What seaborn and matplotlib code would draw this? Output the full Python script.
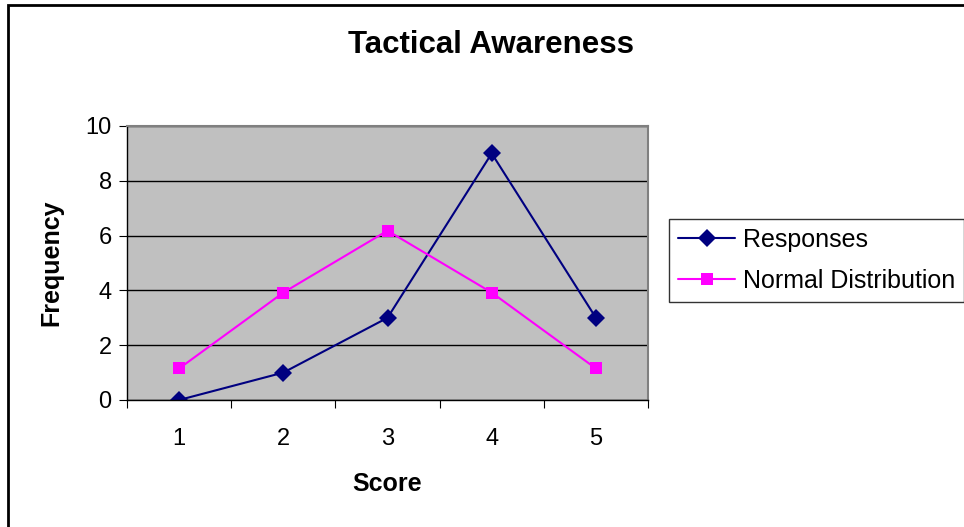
import pandas as pd
import matplotlib.pyplot as plt
import seaborn as sns
from matplotlib.patches import Rectangle

scores = [1, 2, 3, 4, 5]
responses = [0, 1, 3, 9, 3]
normal_dist = [1.15, 3.92, 6.18, 3.92, 1.15]

df = pd.DataFrame({
    'Score': scores * 2,
    'Frequency': responses + normal_dist,
    'Series': ['Responses'] * 5 + ['Normal Distribution'] * 5,
})

sns.set_style("white")
plt.rcParams['font.family'] = ['Liberation Sans', 'DejaVu Sans']
plt.rcParams['text.color'] = 'black'
plt.rcParams['xtick.color'] = 'black'
plt.rcParams['ytick.color'] = 'black'
plt.rcParams['axes.labelcolor'] = 'black'

fig = plt.figure(figsize=(9.64, 5.27), dpi=100)
fig.patches.append(Rectangle((8 / 964, -0.1), 1.1, (527 - 5) / 527 + 0.1, transform=fig.transFigure,
                             fill=False, edgecolor='black', linewidth=2))
ax = fig.add_axes([127 / 964, 127 / 527, 521 / 964, 274 / 527])
ax.set_facecolor('#C0C0C0')

sns.lineplot(data=df, x='Score', y='Frequency', hue='Series', style='Series',
             palette={'Responses': '#000080', 'Normal Distribution': '#FF00FF'},
             markers={'Responses': 'D', 'Normal Distribution': 's'},
             dashes=False, markersize=9, markeredgewidth=0, linewidth=1.5, ax=ax)

ax.set_xlim(0.5, 5.5)
ax.set_ylim(0, 10)
ax.set_yticks([0, 2, 4, 6, 8, 10])
ax.yaxis.grid(True, color='black', linewidth=1)
ax.set_axisbelow(True)

ax.set_xticks([0.5, 1.5, 2.5, 3.5, 4.5, 5.5])
ax.set_xticklabels([])
ax.set_xticks(scores, minor=True)
ax.set_xticklabels([str(s) for s in scores], minor=True)
ax.tick_params(axis='x', which='major', direction='out', length=6, color='black', bottom=True)
ax.tick_params(axis='x', which='minor', length=0, pad=20, labelsize=17)
ax.tick_params(axis='y', direction='out', length=6, color='black', left=True, labelsize=17, pad=5)

for side in ['left', 'bottom']:
    ax.spines[side].set_color('black')
    ax.spines[side].set_linewidth(1)
for side in ['top', 'right']:
    ax.spines[side].set_color('#808080')
    ax.spines[side].set_linewidth(1.5)

ax.set_xlabel('Score', fontsize=18, fontweight='bold', labelpad=16)
ax.set_ylabel('Frequency', fontsize=18, fontweight='bold', labelpad=16)
fig.text(491 / 964, 1 - 45 / 527, 'Tactical Awareness', fontsize=22.5, fontweight='bold',
         ha='center', va='center')

leg = ax.legend(loc='upper left', bbox_to_anchor=(669 / 964, 1 - 219 / 527),
                bbox_transform=fig.transFigure, frameon=True, fancybox=False,
                fontsize=18, handlelength=2.3, handletextpad=0.3, borderpad=0.35,
                labelspacing=0.68, borderaxespad=0)
leg.get_frame().set_edgecolor('black')
leg.get_frame().set_linewidth(1)

fig.savefig('out.png', dpi=100)
